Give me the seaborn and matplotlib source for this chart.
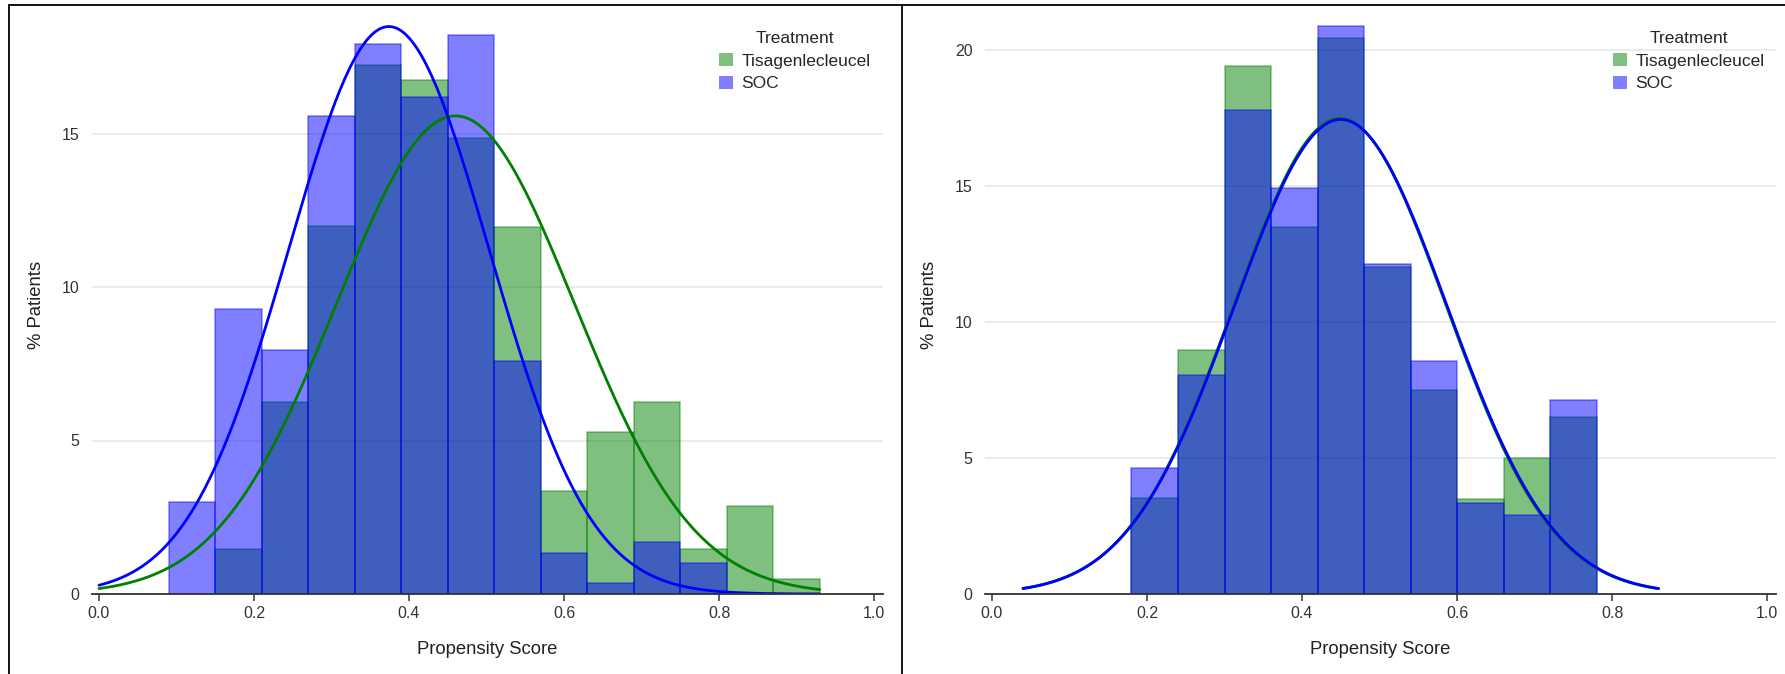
import matplotlib
matplotlib.use('Agg')

import numpy as np
import pandas as pd
import matplotlib.pyplot as plt
from matplotlib.lines import Line2D
from matplotlib.patches import Patch
from matplotlib.colors import to_rgba
import seaborn as sns

# --- data (% patients per propensity-score bin) ---
left_edges = [0.09, 0.15, 0.21, 0.27, 0.33, 0.39, 0.45, 0.51, 0.57, 0.63, 0.69, 0.75, 0.81, 0.87, 0.93]
left_tisa = [0.0, 1.47, 6.25, 11.98, 17.24, 16.75, 14.86, 11.97, 3.37, 5.28, 6.24, 1.45, 2.88, 0.49]
left_soc = [3.0, 9.28, 7.95, 15.57, 17.9, 16.2, 18.2, 7.6, 1.33, 0.35, 1.68, 1.0, 0.0, 0.0]

right_edges = [0.18, 0.24, 0.30, 0.36, 0.42, 0.48, 0.54, 0.60, 0.66, 0.72, 0.78]
right_tisa = [3.52, 8.97, 19.4, 13.48, 20.43, 12.02, 7.5, 3.49, 5.0, 6.52]
right_soc = [4.63, 8.03, 17.77, 14.93, 20.87, 12.12, 8.55, 3.36, 2.89, 7.12]

# fitted normal curves: (mean, sd) per treatment, and the x range they are drawn over
left_norm = {'Tisagenlecleucel': (0.46, 0.1537), 'SOC': (0.374, 0.1295)}
right_norm = {'Tisagenlecleucel': (0.449, 0.1370), 'SOC': (0.450, 0.1373)}
left_curve_range = (0.0, 0.93)
right_curve_range = (0.04, 0.86)

groups = ['Tisagenlecleucel', 'SOC']
colors = {'Tisagenlecleucel': '#008000', 'SOC': '#0000ff'}
x_ticks = [0.0, 0.2, 0.4, 0.6, 0.8, 1.0]

sns.set_style('white')
plt.rcParams['font.family'] = ['Liberation Sans', 'DejaVu Sans']

W, H = 1785, 674
fig = plt.figure(figsize=(W / 100, H / 100), dpi=100)
ax1 = fig.add_axes([92 / W, 80 / H, 791 / W, 579 / H])
ax2 = fig.add_axes([985 / W, 80 / H, 791 / W, 579 / H])


def draw_panel(ax, edges, tisa, soc, norms, crange, ymax, yticks, leg_x):
    e = np.array(edges)
    centers = (e[:-1] + e[1:]) / 2
    binw = e[1] - e[0]
    df = pd.DataFrame({
        'score': np.concatenate([centers, centers]),
        'pct': np.concatenate([tisa, soc]),
        'Treatment': ['Tisagenlecleucel'] * len(centers) + ['SOC'] * len(centers),
    })
    # green first, blue layered on top
    for g in groups:
        sub = df[df['Treatment'] == g]
        sns.histplot(data=sub, x='score', weights='pct', bins=list(edges), ax=ax,
                     color=colors[g], alpha=0.5, edgecolor=to_rgba(colors[g], 0.45),
                     linewidth=1.1)
    for g in groups:
        mu, sd = norms[g]
        xs = np.linspace(crange[0], crange[1], 300)
        ys = 100 * binw * np.exp(-(xs - mu) ** 2 / (2 * sd ** 2)) / (sd * np.sqrt(2 * np.pi))
        sns.lineplot(x=xs, y=ys, ax=ax, color=colors[g], linewidth=2.0,
                     sort=False, estimator=None)

    ax.set_xlim(-0.009, 1.0115)
    ax.set_ylim(0, ymax)
    ax.set_xticks(x_ticks)
    ax.set_xticklabels([f'{t:.1f}' for t in x_ticks])
    ax.set_yticks(yticks)
    ax.set_yticklabels([str(t) for t in yticks])
    ax.yaxis.grid(True, color='#e8e8e8', linewidth=1.2)
    ax.set_axisbelow(True)
    for s in ['left', 'right', 'top']:
        ax.spines[s].set_visible(False)
    ax.spines['bottom'].set_color('#333333')
    ax.spines['bottom'].set_linewidth(1.3)
    ax.tick_params(axis='x', length=5, width=1.1, color='#333333',
                   labelsize=11.5, labelcolor='#333333', pad=4, bottom=True)
    ax.tick_params(axis='y', length=0, labelsize=11.5, labelcolor='#333333', pad=9)
    ax.set_xlabel('Propensity Score', fontsize=13.3, color='#222222', labelpad=14)
    ax.set_ylabel('% Patients', fontsize=13.3, color='#222222', labelpad=12)

    handles = [Patch(facecolor=colors[g], alpha=0.5, edgecolor='none') for g in groups]
    ax.legend(handles, groups, title='Treatment', loc='upper left',
              bbox_to_anchor=(leg_x / W, 1 - 31 / H), bbox_transform=fig.transFigure,
              frameon=False, borderpad=0, borderaxespad=0, fontsize=12.5,
              title_fontsize=12.5, handlelength=0.8, handleheight=0.8,
              handletextpad=0.5, labelspacing=0.4)


draw_panel(ax1, left_edges, left_tisa, left_soc, left_norm, left_curve_range,
           579 / 30.7, [0, 5, 10, 15], 719)
draw_panel(ax2, right_edges, right_tisa, right_soc, right_norm, right_curve_range,
           579 / 27.22, [0, 5, 10, 15, 20], 1613)

# panel frame lines
fig.add_artist(Line2D([9 / W, 9 / W], [0, 1 - 5 / H], transform=fig.transFigure, color='black', lw=1.3))
fig.add_artist(Line2D([9 / W, 1], [1 - 5 / H, 1 - 5 / H], transform=fig.transFigure, color='black', lw=1.3))
fig.add_artist(Line2D([902 / W, 902 / W], [0, 1 - 5 / H], transform=fig.transFigure, color='black', lw=1.3))

fig.savefig('out.png', dpi=100)
